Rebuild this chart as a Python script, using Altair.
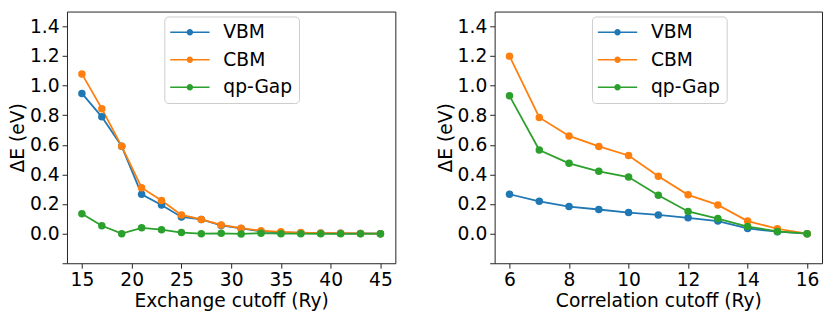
import altair as alt
import pandas as pd

series = ["VBM", "CBM", "qp-Gap"]
colors = ["#1f77b4", "#ff7f0e", "#2ca02c"]

exch_cutoff = [15, 17, 19, 21, 23, 25, 27, 29, 31, 33, 35, 37, 39, 41, 43, 45]
exch_vbm = [0.947, 0.789, 0.590, 0.266, 0.194, 0.113, 0.096, 0.055, 0.035, 0.015, 0.008, 0.005, 0.003, 0.002, 0.001, 0.0]
exch_cbm = [1.079, 0.844, 0.590, 0.310, 0.224, 0.126, 0.096, 0.059, 0.037, 0.020, 0.012, 0.007, 0.004, 0.003, 0.001, 0.0]
exch_gap = [0.135, 0.053, 0.0, 0.039, 0.027, 0.007, 0.0, 0.002, -0.002, 0.003, 0.0, 0.0, -0.001, -0.001, -0.001, 0.0]

corr_cutoff = [6, 7, 8, 9, 10, 11, 12, 13, 14, 15, 16]
corr_vbm = [0.266, 0.218, 0.183, 0.163, 0.142, 0.126, 0.107, 0.085, 0.035, 0.013, 0.0]
corr_cbm = [1.199, 0.785, 0.660, 0.589, 0.528, 0.388, 0.262, 0.194, 0.085, 0.033, 0.0]
corr_gap = [0.931, 0.565, 0.475, 0.421, 0.382, 0.259, 0.150, 0.102, 0.048, 0.015, 0.0]

y_ticks = [-0.2, 0.0, 0.2, 0.4, 0.6, 0.8, 1.0, 1.2, 1.4]
exch_ticks = [15, 20, 25, 30, 35, 40, 45]
corr_ticks = [6, 8, 10, 12, 14, 16]

FONT = "DejaVu Sans"
FS = 19


def long_table(xs, vals):
    rows = []
    for s, v in zip(series, vals):
        for xi, yi in zip(xs, v):
            rows.append({"x": xi, "y": yi, "series": s})
    return pd.DataFrame(rows)


SYMBOL = ("M-1,-0.08L3,-0.08L3,0.08L-1,0.08Z "
          "M1.33,0A0.33,0.33 0 1,1 0.67,0A0.33,0.33 0 1,1 1.33,0Z")


def make_legend():
    return alt.Legend(
        title=None, orient="none", legendX=99, legendY=5,
        symbolType=SYMBOL, symbolSize=400, symbolStrokeWidth=0,
        labelOffset=34, padding=6, rowPadding=8,
        fillColor="rgba(255,255,255,0.8)", strokeColor="#cccccc",
        cornerRadius=4, labelFontSize=FS, labelFont=FONT, labelColor="black")


def panel(xs, vals, xdomain, xticks, xtitle):
    df = long_table(xs, vals)
    x = alt.X("x:Q", scale=alt.Scale(domain=xdomain, nice=False, zero=False),
              axis=alt.Axis(values=xticks, title=xtitle, format="d"))
    y = alt.Y("y:Q", scale=alt.Scale(domain=[-0.2, 1.5], nice=False, zero=False),
              axis=alt.Axis(values=y_ticks, title="ΔE (eV)",
                            labelExpr="datum.value < -0.1 ? '' : format(datum.value, '.1f')"))
    lines = alt.Chart(df).mark_line(strokeWidth=1.8).encode(
        x=x, y=y,
        stroke=alt.Stroke("series:N", scale=alt.Scale(domain=series, range=colors),
                          legend=make_legend()),
    )
    pts = alt.Chart(df).mark_point(filled=True, size=58, opacity=1, strokeWidth=0).encode(
        x=x, y=y,
        fill=alt.Fill("series:N", scale=alt.Scale(domain=series, range=colors),
                      legend=make_legend()),
    )
    return alt.layer(lines, pts).properties(width=334, height=256)


left = panel(exch_cutoff, [exch_vbm, exch_cbm, exch_gap], [13.5, 46.5], exch_ticks,
             "Exchange cutoff (Ry)")
right = panel(corr_cutoff, [corr_vbm, corr_cbm, corr_gap], [5.5, 16.5], corr_ticks,
              "Correlation cutoff (Ry)").properties(width=333)

chart = alt.hconcat(left, right, spacing=40).resolve_scale(
    fill="independent", stroke="independent"
).resolve_legend(fill="independent", stroke="independent").properties(
    padding=0
).configure_view(
    stroke="#222222", strokeWidth=1
).configure_axis(
    domain=False, grid=False, ticks=True, tickColor="#222222", tickSize=5, tickWidth=1,
    labelFont=FONT, labelFontSize=FS, labelColor="black", labelPadding=3,
    labelOverlap=False, labelFlush=False, labelBound=False,
    titleFont=FONT, titleFontSize=FS, titleFontWeight="normal", titleColor="black",
    titlePadding=2,
)

chart.save("out.html", embed_options={"renderer": "svg", "actions": False})
